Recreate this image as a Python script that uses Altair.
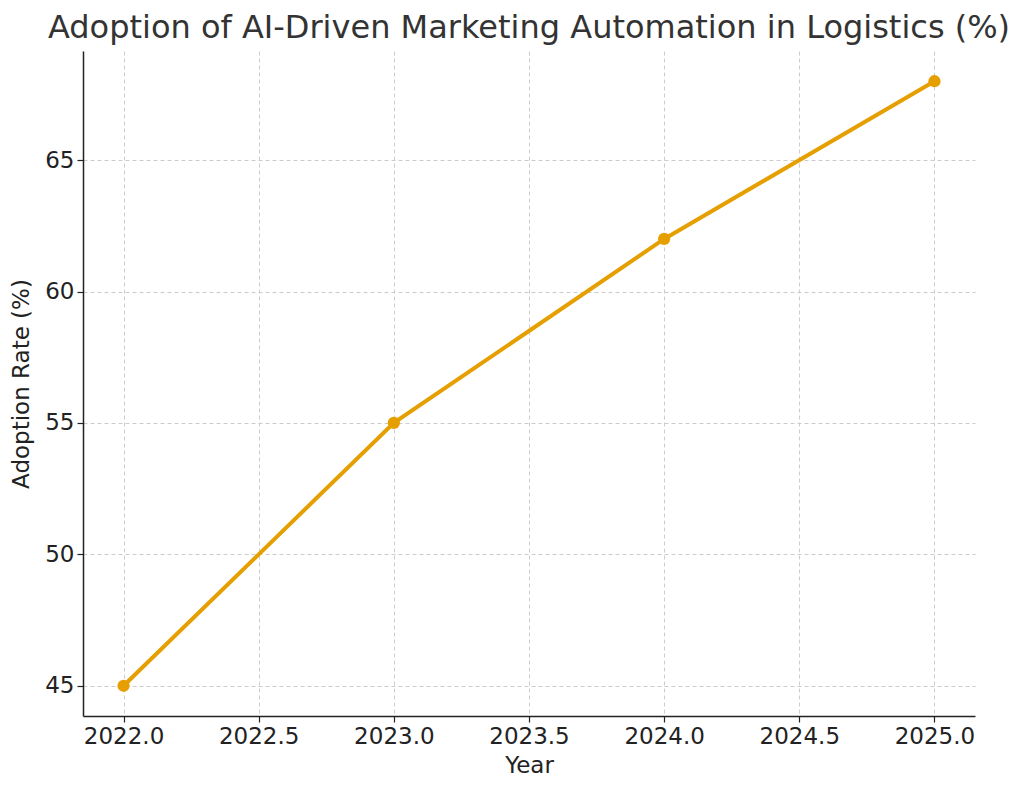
import altair as alt
import pandas as pd

# Data
years = [2022, 2023, 2024, 2025]
adoption = [45, 55, 62, 68]
x_ticks = [2022.0, 2022.5, 2023.0, 2023.5, 2024.0, 2024.5, 2025.0]
y_ticks = [45, 50, 55, 60, 65]

LINE_COLOR = "#E69F00"
FONT = "DejaVu Sans"

df = pd.DataFrame({"Year": years, "Adoption": adoption})

x_enc = alt.X(
    "Year:Q",
    title="Year",
    scale=alt.Scale(domain=[2021.85, 2025.15], nice=False, zero=False),
    axis=alt.Axis(values=x_ticks, format=".1f", labelPadding=3, titlePadding=6),
)
y_enc = alt.Y(
    "Adoption:Q",
    title="Adoption Rate (%)",
    scale=alt.Scale(domain=[43.85, 69.15], nice=False, zero=False),
    axis=alt.Axis(values=y_ticks, labelPadding=3, titlePadding=11),
)

base = alt.Chart(df).encode(x=x_enc, y=y_enc)

line = base.mark_line(color=LINE_COLOR, strokeWidth=4)
points = base.mark_point(color=LINE_COLOR, filled=True, opacity=1, size=150)

chart = (line + points).properties(
    width=892,
    height=665,
    autosize=alt.AutoSizeParams(type="none"),
    padding={"left": 75, "top": 43, "right": 41, "bottom": 68},
    title=alt.TitleParams(
        "Adoption of AI-Driven Marketing Automation in Logistics (%)",
        font=FONT,
        fontSize=32,
        fontWeight="normal",
        color="#333333",
        anchor="middle",
        frame="group",
        baseline="alphabetic",
        offset=14,
        dy=33,
    ),
).configure_view(
    stroke=None
).configure_axis(
    labelFont=FONT,
    titleFont=FONT,
    labelFontSize=23,
    titleFontSize=23,
    titleFontWeight="normal",
    labelColor="#222222",
    titleColor="#222222",
    domainColor="#222222",
    domainWidth=1.5,
    tickColor="#222222",
    tickSize=6,
    tickWidth=1.2,
    grid=True,
    gridColor="#cccccc",
    gridDash=[4, 3],
    gridWidth=1,
)

chart.save("out.html", embed_options={"renderer": "svg", "actions": False})
